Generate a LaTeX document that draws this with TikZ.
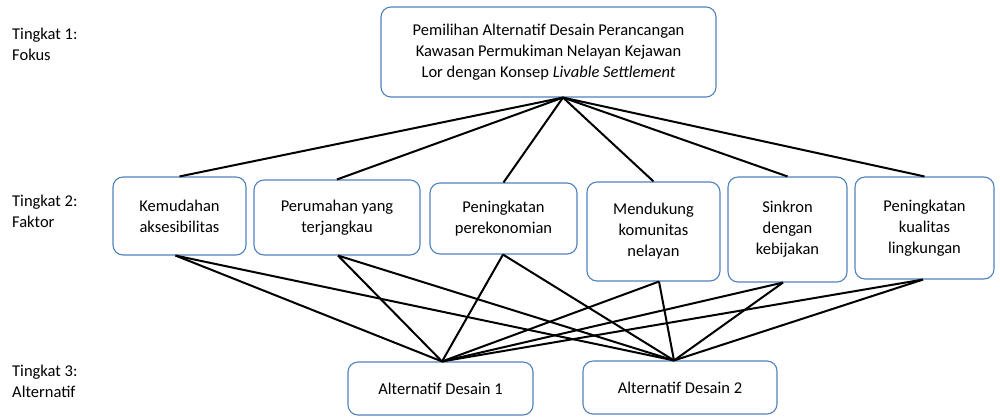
\documentclass[tikz,border=0pt]{standalone}
\usepackage{fontspec}
\setmainfont{Carlito}
\usetikzlibrary{calc}
\definecolor{boxblue}{RGB}{79,129,189}
\tikzset{
  box/.style={draw=boxblue, line width=1.1pt, rounded corners=10pt, align=center, inner sep=2pt, font=\fontsize{16.5}{21}\selectfont},
  conn/.style={line width=2pt, draw=black},
  lvl/.style={align=left, anchor=west, inner sep=0pt, font=\fontsize{16.5}{21}\selectfont}
}
\begin{document}
\begin{tikzpicture}[x=1pt,y=-1pt]
\useasboundingbox (0,0) rectangle (1000,416);
% level labels
\node[lvl] (l1) at (12,44) {Tingkat 1:\\Fokus};
\node[lvl] (l2) at (12,211) {Tingkat 2:\\Faktor};
\node[lvl] (l3) at (12,381) {Tingkat 3:\\Alternatif};
% boxes
\node[box, minimum width=335pt, minimum height=90pt] (top) at (548.5,52) {Pemilihan Alternatif Desain Perancangan\\Kawasan Permukiman Nelayan Kejawan\\Lor dengan Konsep \textit{Livable Settlement}};
\node[box, minimum width=133pt, minimum height=78pt] (b1) at (179.5,216) {Kemudahan\\aksesibilitas};
\node[box, minimum width=166pt, minimum height=75pt] (b2) at (337,217.5) {Perumahan yang\\terjangkau};
\node[box, minimum width=147pt, minimum height=71pt] (b3) at (503.5,218.5) {Peningkatan\\perekonomian};
\node[box, minimum width=133pt, minimum height=99pt] (b4) at (653.5,231.5) {Mendukung\\komunitas\\nelayan};
\node[box, minimum width=119pt, minimum height=105pt] (b5) at (787.5,229.5) {Sinkron\\dengan\\kebijakan};
\node[box, minimum width=139pt, minimum height=102pt] (b6) at (924.5,228) {Peningkatan\\kualitas\\lingkungan};
\node[box, minimum width=185pt, minimum height=53pt] (a1) at (440.5,388.5) {Alternatif Desain 1};
\node[box, minimum width=194pt, minimum height=53pt] (a2) at (680,387.5) {Alternatif Desain 2};
% attachment points
\coordinate (tc) at ([xshift=14.5pt]top.south);
\coordinate (a1c) at ([xshift=1.5pt]a1.north);
\coordinate (a2c) at ([xshift=-6pt]a2.north);
% top to factors
\foreach \b in {b1,b2,b3,b4,b5,b6}
  \draw[conn] (tc) -- (\b.north);
% factors to alternatives
\foreach \b/\s in {b1/-4,b2/1,b3/-0.5,b4/5.5,b5/-4.5,b6/-1.5}{
  \draw[conn] ([xshift=\s pt]\b.south) -- (a1c);
  \draw[conn] ([xshift=\s pt]\b.south) -- (a2c);
}
\end{tikzpicture}
\end{document}
